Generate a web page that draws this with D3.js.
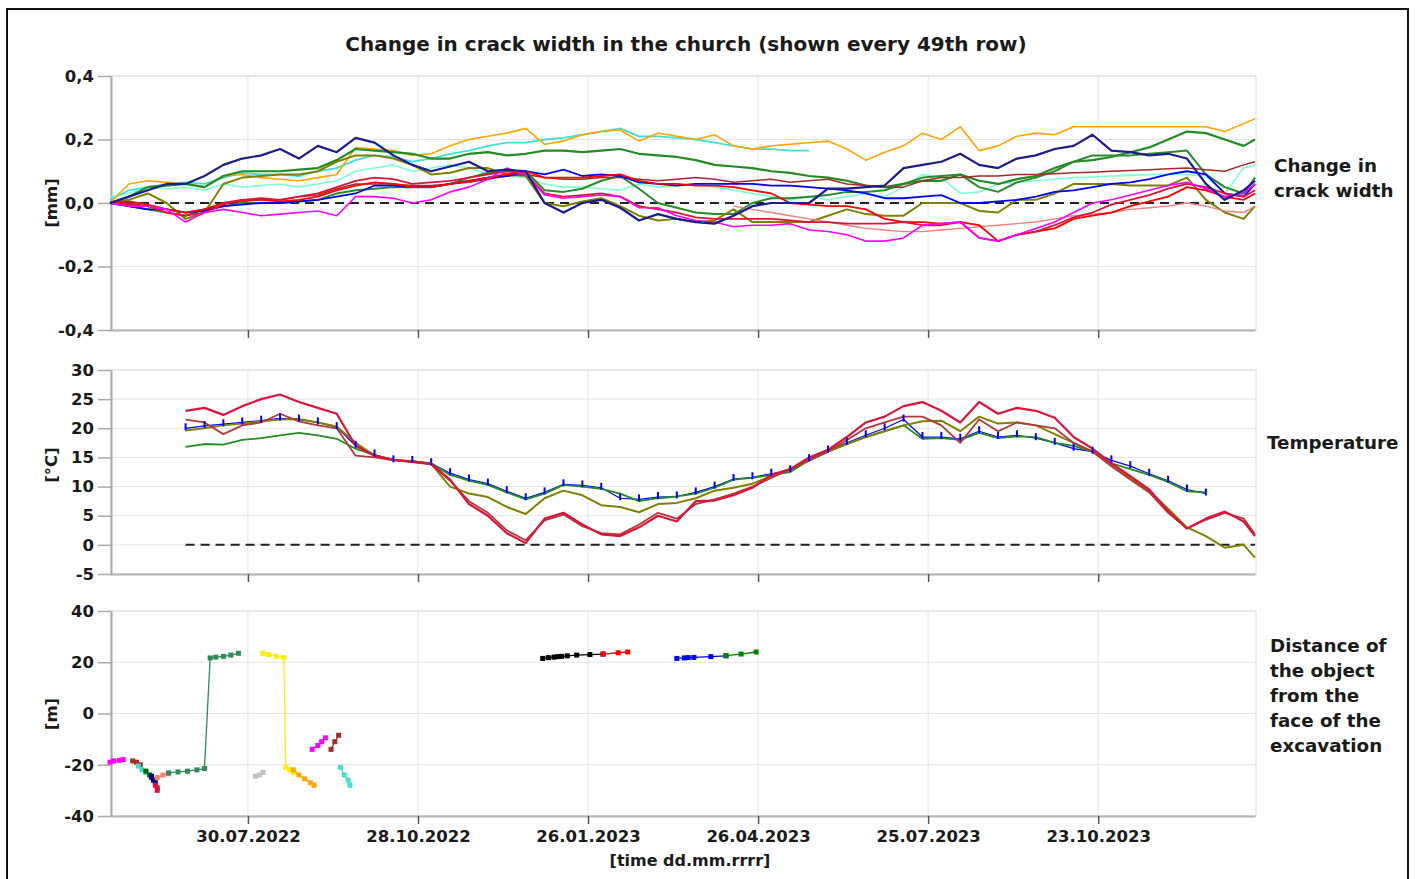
<!DOCTYPE html>
<html>
<head>
<meta charset="utf-8">
<script src="https://cdn.jsdelivr.net/npm/d3@7"></script>
<style>
  body { margin: 0; background: #fff; }
  svg { display: block; font-family: "DejaVu Sans", Verdana, sans-serif; }
</style>
</head>
<body>
<div id="chart"></div>
<script>
// ---- data ----
const gridDates = ["2022-05-18","2022-05-28","2022-06-07","2022-06-17","2022-06-27","2022-07-07","2022-07-17","2022-07-27","2022-08-06","2022-08-16",
  "2022-08-26","2022-09-05","2022-09-15","2022-09-25","2022-10-05","2022-10-15","2022-10-25","2022-11-04","2022-11-14","2022-11-24",
  "2022-12-04","2022-12-14","2022-12-24","2023-01-03","2023-01-13","2023-01-23","2023-02-02","2023-02-12","2023-02-22","2023-03-04",
  "2023-03-14","2023-03-24","2023-04-03","2023-04-13","2023-04-23","2023-05-03","2023-05-13","2023-05-23","2023-06-02","2023-06-12",
  "2023-06-22","2023-07-02","2023-07-12","2023-07-22","2023-08-01","2023-08-11","2023-08-21","2023-08-31","2023-09-10","2023-09-20",
  "2023-09-30","2023-10-10","2023-10-20","2023-10-30","2023-11-09","2023-11-19","2023-11-29","2023-12-09","2023-12-19","2023-12-29",
  "2024-01-08","2024-01-14"];

const dateTicks = ["2022-07-30","2022-10-28","2023-01-26","2023-04-26","2023-07-25","2023-10-23"];
const crackTicks = [-0.4, -0.2, 0, 0.2, 0.4];
const tempTicks = [-5, 0, 5, 10, 15, 20, 25, 30];
const distTicks = [-40, -20, 0, 20, 40];

// crack width [mm]
const crackNavy = [0.0,0.02,0.04,0.06,0.06,0.085,0.12,0.14,0.15,0.17,
  0.14,0.18,0.16,0.205,0.19,0.15,0.12,0.1,0.115,0.13,
  0.1,0.105,0.1,0.0,-0.03,0.0,0.01,-0.015,-0.055,-0.035,
  -0.05,-0.06,-0.065,-0.04,-0.01,0.0,0.0,0.0,0.045,0.045,
  0.05,0.055,0.11,0.12,0.13,0.155,0.12,0.11,0.14,0.15,
  0.17,0.18,0.215,0.165,0.16,0.15,0.155,0.14,0.06,0.01,
  0.04,0.07];
const crackOrange = [0.0,0.06,0.07,0.065,0.06,0.05,0.085,0.09,0.08,0.075,
  0.07,0.08,0.09,0.175,0.17,0.165,0.15,0.155,0.18,0.2,
  0.21,0.22,0.235,0.185,0.195,0.215,0.225,0.23,0.195,0.22,
  0.21,0.2,0.215,0.18,0.17,0.18,0.185,0.19,0.195,0.17,
  0.135,0.16,0.18,0.22,0.2,0.24,0.165,0.18,0.21,0.22,
  0.215,0.24,0.24,0.24,0.24,0.24,0.24,0.24,0.24,0.225,
  0.25,0.265];
const crackTurquoise = [0.01,0.04,0.05,0.06,0.065,0.06,0.08,0.095,0.09,0.09,
  0.085,0.1,0.11,0.135,0.15,0.145,0.13,0.14,0.155,0.165,
  0.18,0.19,0.19,0.2,0.205,0.215,0.225,0.235,0.21,0.21,
  0.205,0.2,0.19,0.18,0.17,0.17,0.165,0.165];
const crackAquamarine = [0.02,0.03,0.05,0.045,0.05,0.04,0.06,0.05,0.055,0.06,
  0.05,0.06,0.07,0.1,0.11,0.12,0.1,0.11,0.12,0.11,
  0.09,0.085,0.08,0.06,0.05,0.05,0.045,0.04,0.06,0.05,
  0.055,0.06,0.05,0.04,0.03,0.02,0.01,0.02,0.01,0.02,
  0.03,0.02,0.05,0.09,0.08,0.03,0.035,0.06,0.065,0.07,
  0.075,0.08,0.082,0.085,0.087,0.09,0.09,0.09,0.085,0.03,
  0.11,0.12];
const crackGreen1 = [0.0,0.02,0.05,0.055,0.06,0.05,0.085,0.1,0.1,0.1,
  0.105,0.11,0.135,0.17,0.165,0.16,0.155,0.14,0.14,0.155,
  0.16,0.15,0.155,0.165,0.165,0.16,0.165,0.17,0.155,0.15,
  0.145,0.135,0.12,0.115,0.11,0.1,0.095,0.085,0.08,0.07,
  0.055,0.05,0.06,0.07,0.07,0.09,0.07,0.06,0.075,0.085,
  0.11,0.13,0.135,0.145,0.16,0.175,0.2,0.225,0.22,0.2,
  0.18,0.2];
const crackGreen2 = [0.0,-0.01,-0.02,-0.03,-0.04,-0.02,-0.01,0.0,0.0,0.0,
  0.005,0.01,0.03,0.04,0.045,0.05,0.05,0.05,0.06,0.08,
  0.095,0.1,0.1,0.04,0.035,0.045,0.07,0.085,0.045,0.0,
  -0.015,-0.03,-0.035,-0.035,0.0,0.015,0.015,0.02,0.025,0.035,
  0.035,0.04,0.06,0.08,0.085,0.09,0.05,0.035,0.065,0.08,
  0.1,0.13,0.15,0.15,0.15,0.155,0.16,0.165,0.09,0.05,
  0.03,0.08];
const crackOlive = [0.0,0.01,0.03,0.0,-0.05,-0.03,0.06,0.08,0.085,0.09,
  0.09,0.1,0.13,0.15,0.15,0.14,0.12,0.09,0.095,0.11,
  0.11,0.09,0.085,0.0,-0.01,0.005,0.015,-0.01,-0.04,-0.055,
  -0.05,-0.06,-0.055,-0.02,-0.06,-0.06,-0.06,-0.06,-0.04,-0.02,
  -0.035,-0.04,-0.04,0.0,0.0,0.0,-0.025,-0.03,0.01,0.01,
  0.03,0.06,0.06,0.06,0.055,0.055,0.055,0.08,0.01,-0.03,
  -0.05,-0.01];
const crackRed = [0.0,0.005,-0.005,-0.02,-0.03,-0.02,0.0,0.01,0.01,0.005,
  0.01,0.02,0.04,0.055,0.065,0.06,0.05,0.05,0.06,0.07,
  0.08,0.09,0.1,0.08,0.08,0.08,0.085,0.09,0.07,0.06,
  0.06,0.055,0.055,0.05,0.04,0.03,0.0,-0.005,-0.01,-0.01,
  -0.02,-0.05,-0.06,-0.06,-0.065,-0.06,-0.07,-0.12,-0.1,-0.09,
  -0.08,-0.05,-0.04,-0.03,-0.01,0.005,0.02,0.05,0.04,0.02,
  0.01,0.03];
const crackCrimson = [0.0,-0.005,-0.01,-0.03,-0.04,-0.03,-0.005,0.01,0.015,0.01,
  0.02,0.03,0.05,0.07,0.08,0.075,0.06,0.065,0.07,0.08,
  0.09,0.1,0.09,0.03,0.02,0.025,0.03,0.02,-0.01,-0.02,
  -0.03,-0.045,-0.05,-0.05,-0.05,-0.05,-0.055,-0.06,-0.06,-0.065,
  -0.065,-0.065,-0.06,-0.07,-0.07,-0.06,-0.11,-0.12,-0.1,-0.09,
  -0.07,-0.045,-0.03,-0.005,0.01,0.025,0.045,0.06,0.05,0.03,
  0.02,0.04];
const crackMagenta = [0.0,-0.01,-0.01,-0.02,-0.06,-0.03,-0.02,-0.03,-0.04,-0.035,
  -0.03,-0.025,-0.04,0.02,0.02,0.015,0.0,0.01,0.035,0.05,
  0.075,0.11,0.09,0.025,0.015,0.02,0.025,0.02,-0.015,-0.015,
  -0.04,-0.055,-0.06,-0.075,-0.07,-0.07,-0.065,-0.085,-0.09,-0.1,
  -0.12,-0.12,-0.11,-0.07,-0.065,-0.06,-0.11,-0.12,-0.1,-0.08,
  -0.06,-0.03,0.0,0.01,0.025,0.04,0.055,0.065,0.045,0.02,
  0.03,0.06];
const crackBlue = [0.0,-0.01,-0.02,-0.02,-0.03,-0.025,-0.01,-0.005,0.0,0.0,
  0.005,0.01,0.02,0.03,0.055,0.055,0.05,0.05,0.06,0.07,
  0.08,0.085,0.1,0.09,0.105,0.085,0.09,0.085,0.065,0.06,
  0.055,0.06,0.06,0.06,0.06,0.055,0.055,0.05,0.045,0.04,
  0.03,0.015,0.015,0.02,0.025,0.0,0.0,0.005,0.01,0.02,
  0.035,0.04,0.05,0.06,0.065,0.075,0.09,0.1,0.09,0.03,
  0.02,0.06];
const crackBrown = [0.0,0.0,-0.01,-0.02,-0.03,-0.02,0.0,0.005,0.01,0.01,
  0.02,0.025,0.045,0.06,0.06,0.06,0.055,0.055,0.06,0.065,
  0.075,0.085,0.09,0.08,0.075,0.075,0.08,0.08,0.075,0.07,
  0.075,0.08,0.075,0.065,0.07,0.075,0.065,0.07,0.075,0.06,
  0.055,0.05,0.05,0.07,0.08,0.08,0.085,0.085,0.09,0.09,
  0.092,0.095,0.097,0.1,0.102,0.105,0.108,0.11,0.105,0.1,
  0.12,0.13];
const crackCoral = [null,null,null,null,null,null,null,null,null,null,
  null,null,null,null,null,null,null,null,null,null,
  null,null,null,null,null,null,null,null,null,null,
  null,null,null,-0.01,-0.02,-0.03,-0.04,-0.05,-0.06,-0.07,
  -0.08,-0.085,-0.09,-0.09,-0.085,-0.08,-0.075,-0.07,-0.065,-0.06,
  -0.05,-0.04,-0.035,-0.03,-0.02,-0.015,-0.01,0.0,-0.01,-0.025,
  -0.03,-0.01];

// temperature [°C]
const tempCrimson = [null,null,null,null,23.0,23.5,22.3,23.8,25.0,25.8,
  24.5,23.5,22.5,17.0,15.3,14.6,14.3,13.9,11.2,7.0,
  5.0,2.0,0.3,4.5,5.5,3.5,1.8,1.5,3.0,5.0,
  4.0,7.5,7.6,8.5,9.8,12.0,13.0,15.0,16.3,18.5,
  21.0,22.0,23.8,24.5,23.0,21.0,24.5,22.5,23.5,23.0,
  21.8,18.5,16.5,14.0,11.8,9.5,5.8,2.8,4.5,5.7,
  4.0,1.5];
const tempBrown = [null,null,null,null,21.5,21.0,19.0,20.5,21.0,22.5,
  21.2,20.5,20.0,15.3,15.0,14.5,14.2,13.8,11.0,7.5,
  5.5,2.5,0.8,4.2,5.2,3.2,2.0,1.8,3.5,5.5,
  4.5,7.0,7.8,8.8,10.0,11.5,13.0,14.5,16.0,18.0,
  20.0,21.0,22.0,22.0,20.5,17.5,21.5,19.5,21.0,20.5,
  20.0,17.5,16.0,13.5,11.2,9.0,5.5,2.8,4.3,5.5,
  4.5,1.8];
const tempOlive = [null,null,null,null,19.6,20.0,20.5,20.8,21.2,21.5,
  21.6,21.0,20.3,17.5,15.3,14.6,14.2,13.9,10.0,8.8,
  8.2,6.5,5.3,8.0,9.3,8.5,6.8,6.5,5.6,7.0,
  7.2,8.0,9.3,9.8,10.5,11.8,13.0,14.5,16.0,17.3,
  18.5,19.5,20.5,21.2,21.3,19.5,22.0,20.8,21.0,20.5,
  19.0,17.5,16.0,13.6,11.5,9.2,6.2,3.0,1.5,-0.5,
  0.0,-2.2];
const tempGreen = [null,null,null,null,16.8,17.3,17.2,18.0,18.3,18.8,
  19.2,18.8,18.2,16.5,15.4,14.6,14.3,14.0,12.0,11.0,
  10.3,9.0,7.8,8.8,10.3,10.0,9.6,8.8,7.5,8.0,
  8.3,8.8,9.8,11.2,11.5,12.0,12.5,14.5,16.0,17.3,
  18.5,19.5,20.5,18.2,18.3,18.0,19.2,18.3,18.6,18.5,
  17.5,17.0,16.0,14.0,13.0,12.0,10.8,9.2,9.0,null,
  null,null];
const tempBlue = [null,null,null,null,20.0,20.4,20.7,21.0,21.3,21.7,
  21.5,21.0,20.2,17.0,15.5,14.5,14.4,14.0,12.3,11.2,
  10.5,9.2,8.0,9.0,10.4,10.2,9.8,8.0,7.8,8.2,
  8.3,9.0,10.0,11.3,11.6,12.2,12.8,14.7,16.2,17.5,
  18.8,20.0,21.5,18.5,18.5,18.2,19.5,18.5,18.8,18.3,
  17.5,16.5,16.0,14.5,13.5,12.2,11.0,9.5,8.8,null,
  null,null];

// distance of the object from the face of the excavation [m]
const distMagenta1 = [["2022-05-18",-19],["2022-05-20",-18.5],["2022-05-23",-18.3],["2022-05-25",-18]];
const distBrown1 = [["2022-05-30",-18.5],["2022-06-01",-19],["2022-06-03",-20]];
const distTurq1 = [["2022-06-02",-20.5],["2022-06-04",-22],["2022-06-06",-23]];
const distDkGreen = [["2022-06-06",-22.5],["2022-06-08",-24],["2022-06-09",-25]];
const distNavy = [["2022-06-09",-24.5],["2022-06-10",-26],["2022-06-11",-27]];
const distCrimson = [["2022-06-11",-28],["2022-06-12",-29],["2022-06-12",-30]];
const distSalmon = [["2022-06-12",-25],["2022-06-15",-24],["2022-06-18",-23.5]];
const distSeaGreen = [["2022-06-18",-23.2],["2022-06-23",-22.8],["2022-06-28",-22.5],["2022-07-03",-22],["2022-07-07",-21.5],
  ["2022-07-10",21.7],["2022-07-13",22],["2022-07-17",22.3],["2022-07-21",22.8],["2022-07-25",23.5]];
const distGray = [["2022-08-03",-24.5],["2022-08-05",-24],["2022-08-07",-23]];
const distYellow = [["2022-08-07",23.5],["2022-08-10",23],["2022-08-14",22.3],["2022-08-18",21.8],["2022-08-19",-21],["2022-08-21",-22],["2022-08-23",-23]];
const distOrange = [["2022-08-23",-22],["2022-08-26",-24],["2022-08-29",-25.5],["2022-09-01",-27],["2022-09-03",-28]];
const distMagenta2 = [["2022-09-02",-14],["2022-09-05",-12.5],["2022-09-07",-11],["2022-09-09",-9.5]];
const distBrown2 = [["2022-09-12",-14],["2022-09-14",-11],["2022-09-16",-8.5]];
const distTurq2 = [["2022-09-17",-21],["2022-09-19",-24],["2022-09-21",-26],["2022-09-22",-28]];
const distBlack = [["2023-01-02",21.5],["2023-01-05",21.8],["2023-01-08",22],["2023-01-10",22.2],["2023-01-12",22.3],
  ["2023-01-15",22.5],["2023-01-20",22.8],["2023-01-27",23],["2023-02-03",23.2]];
const distRed = [["2023-02-03",23.2],["2023-02-11",23.7],["2023-02-16",24]];
const distBlue = [["2023-03-14",21.5],["2023-03-18",21.7],["2023-03-20",21.8],["2023-03-23",21.9],["2023-04-01",22.2],["2023-04-09",22.5]];
const distGreen = [["2023-04-09",22.6],["2023-04-17",23.2],["2023-04-25",24]];

// ---- drawing ----
const W = 1415, H = 879;
const parse = d3.timeParse("%Y-%m-%d");
const fmtDate = d3.timeFormat("%d.%m.%Y");
const textCol = "#1a1a1a";
const fontFam = "DejaVu Sans, Verdana, sans-serif";

const svg = d3.select("#chart").append("svg")
  .attr("width", W).attr("height", H);

svg.append("rect")
  .attr("x", 7).attr("y", 9).attr("width", 1401).attr("height", 900)
  .attr("fill", "none").attr("stroke", "#111").attr("stroke-width", 2);

svg.append("text")
  .attr("x", 686).attr("y", 51)
  .attr("text-anchor", "middle")
  .attr("font-size", 20).attr("font-weight", "bold").attr("fill", textCol)
  .text("Change in crack width in the church (shown every 49th row)");

const x = d3.scaleTime()
  .domain([parse("2022-05-18"), parse("2024-01-14")])
  .range([110, 1255]);
const tickDates = dateTicks.map(parse);

const yCrack = d3.scaleLinear().domain([-0.4, 0.4]).range([330, 76]);
const yTemp = d3.scaleLinear().domain([-5, 30]).range([574, 370]);
const yDist = d3.scaleLinear().domain([-40, 40]).range([816, 611]);

const fmtCrack = d => (d < 0 ? "-" : "") + Math.abs(d).toFixed(1).replace(".", ",");
const fmtInt = d => (d < 0 ? "-" : "") + Math.abs(d);

function panel(y, ticks, fmt, showDates) {
  const [bottom, top] = y.range();
  const g = svg.append("g");

  // grid
  g.selectAll(".hg").data(ticks).join("line")
    .attr("x1", 111).attr("x2", 1256)
    .attr("y1", d => y(d)).attr("y2", d => y(d))
    .attr("stroke", "#e4e4e4").attr("stroke-width", 1);
  g.selectAll(".vg").data(tickDates).join("line")
    .attr("x1", d => x(d)).attr("x2", d => x(d))
    .attr("y1", top).attr("y2", bottom)
    .attr("stroke", "#e4e4e4").attr("stroke-width", 1);
  g.append("rect")
    .attr("x", 111).attr("y", top).attr("width", 1145).attr("height", bottom - top)
    .attr("fill", "none").attr("stroke", "#dcdcdc");

  // bottom axis
  const ax = g.append("g")
    .attr("transform", `translate(0,${bottom})`)
    .call(d3.axisBottom(x).tickValues(tickDates).tickSize(8).tickSizeOuter(0).tickPadding(6)
      .tickFormat(showDates ? fmtDate : ""));
  ax.select(".domain").attr("stroke", "#b4b4b4").attr("stroke-width", 2);
  ax.selectAll(".tick line").attr("stroke", "#555").attr("stroke-width", 1.5);
  ax.selectAll("text").attr("font-size", 16.5).attr("font-weight", "bold").attr("fill", textCol)
    .attr("font-family", fontFam);

  // left axis
  const ay = g.append("g")
    .attr("transform", "translate(111,0)")
    .call(d3.axisLeft(y).tickValues(ticks).tickSize(13).tickSizeOuter(0).tickPadding(4).tickFormat(fmt));
  ay.select(".domain").attr("stroke", "#a8a8a8").attr("stroke-width", 2);
  ay.selectAll(".tick line").attr("stroke", "#a8a8a8").attr("stroke-width", 1.5);
  ay.selectAll("text").attr("font-size", 16.5).attr("font-weight", "bold").attr("fill", textCol)
    .attr("font-family", fontFam);
  return g;
}

function yLabel(txt, cy) {
  svg.append("text")
    .attr("transform", `translate(57,${cy}) rotate(-90)`)
    .attr("text-anchor", "middle")
    .attr("font-size", 16.5).attr("font-weight", "bold").attr("fill", textCol)
    .text(txt);
}

function sideLabel(lines, x0, y0, step) {
  const t = svg.append("text")
    .attr("font-size", 18.3).attr("font-weight", "bold").attr("fill", textCol);
  lines.forEach((l, i) => t.append("tspan").attr("x", x0).attr("y", y0 + i * step).text(l));
}

function zip(vals) {
  return gridDates.map((s, i) => [parse(s), vals[i]]);
}

// ---- panel 1: crack width ----
const gCrack = panel(yCrack, crackTicks, fmtCrack, false);
gCrack.append("line")
  .attr("x1", x(parse(gridDates[0]))).attr("x2", 1255)
  .attr("y1", yCrack(0)).attr("y2", yCrack(0))
  .attr("stroke", "#222").attr("stroke-width", 2).attr("stroke-dasharray", "9,6");

const crackSeries = [
  { vals: crackAquamarine, color: "#7fffd4", w: 1.6 },
  { vals: crackTurquoise, color: "#40e0d0", w: 1.8 },
  { vals: crackOrange, color: "#ffa500", w: 1.6 },
  { vals: crackGreen1, color: "#228b22", w: 2.2 },
  { vals: crackGreen2, color: "#2a8a2a", w: 2 },
  { vals: crackOlive, color: "#808000", w: 2 },
  { vals: crackBrown, color: "#a52a2a", w: 1.5 },
  { vals: crackCoral, color: "#f08080", w: 1.4 },
  { vals: crackBlue, color: "#0000ff", w: 1.8 },
  { vals: crackRed, color: "#ff0000", w: 1.8 },
  { vals: crackCrimson, color: "#dc143c", w: 1.8 },
  { vals: crackMagenta, color: "#ff00ff", w: 1.6 },
  { vals: crackNavy, color: "#1c1c8c", w: 2.2 }
];
const lineCrack = d3.line().defined(d => d[1] != null)
  .x(d => x(d[0])).y(d => yCrack(d[1]));
crackSeries.forEach(s => {
  gCrack.append("path")
    .datum(zip(s.vals))
    .attr("fill", "none").attr("stroke", s.color).attr("stroke-width", s.w)
    .attr("stroke-linejoin", "round")
    .attr("d", lineCrack);
});
yLabel("[mm]", 203);
sideLabel(["Change in", "crack width"], 1274, 172, 25);

// ---- panel 2: temperature ----
const gTemp = panel(yTemp, tempTicks, fmtInt, false);
const tempStart = zip(tempCrimson).find(d => d[1] != null)[0];
gTemp.append("line")
  .attr("x1", x(tempStart)).attr("x2", 1255)
  .attr("y1", yTemp(0)).attr("y2", yTemp(0))
  .attr("stroke", "#222").attr("stroke-width", 2).attr("stroke-dasharray", "9,6");

const tempSeries = [
  { vals: tempBlue, color: "#0000ff", w: 1.2 },
  { vals: tempGreen, color: "#228b22", w: 1.8 },
  { vals: tempOlive, color: "#808000", w: 2 },
  { vals: tempBrown, color: "#b03a3a", w: 1.8 },
  { vals: tempCrimson, color: "#dc143c", w: 2.2 }
];
const lineTemp = d3.line().defined(d => d[1] != null)
  .x(d => x(d[0])).y(d => yTemp(d[1]));
tempSeries.forEach(s => {
  gTemp.append("path")
    .datum(zip(s.vals))
    .attr("fill", "none").attr("stroke", s.color).attr("stroke-width", s.w)
    .attr("stroke-linejoin", "round")
    .attr("d", lineTemp);
});
// blue marks on the blue temperature series
gTemp.selectAll(".bm").data(zip(tempBlue).filter(d => d[1] != null)).join("line")
  .attr("x1", d => x(d[0])).attr("x2", d => x(d[0]))
  .attr("y1", d => yTemp(d[1]) - 5).attr("y2", d => yTemp(d[1]) + 2)
  .attr("stroke", "#0000ff").attr("stroke-width", 2);
yLabel("[°C]", 465);
sideLabel(["Temperature"], 1267, 449, 25);

// ---- panel 3: distance ----
const gDist = panel(yDist, distTicks, fmtInt, true);
const distSeries = [
  { pts: distMagenta1, color: "#ff00ff" },
  { pts: distBrown1, color: "#a52a2a" },
  { pts: distTurq1, color: "#40e0d0" },
  { pts: distDkGreen, color: "#006400" },
  { pts: distNavy, color: "#000080" },
  { pts: distCrimson, color: "#dc143c" },
  { pts: distSalmon, color: "#fa8072" },
  { pts: distSeaGreen, color: "#2e8b57" },
  { pts: distGray, color: "#c0c0c0" },
  { pts: distYellow, color: "#ffee00" },
  { pts: distOrange, color: "#ffa500" },
  { pts: distMagenta2, color: "#ff00ff" },
  { pts: distBrown2, color: "#a52a2a" },
  { pts: distTurq2, color: "#40e0d0" },
  { pts: distBlack, color: "#000000" },
  { pts: distRed, color: "#ff0000" },
  { pts: distBlue, color: "#0000ff" },
  { pts: distGreen, color: "#008000" }
];
const lineDist = d3.line().x(d => x(parse(d[0]))).y(d => yDist(d[1]));
distSeries.forEach(s => {
  gDist.append("path")
    .datum(s.pts)
    .attr("fill", "none").attr("stroke", s.color).attr("stroke-width", 1.3)
    .attr("d", lineDist);
  gDist.selectAll(null).data(s.pts).join("rect")
    .attr("x", d => x(parse(d[0])) - 2.5).attr("y", d => yDist(d[1]) - 2.5)
    .attr("width", 5).attr("height", 5)
    .attr("fill", s.color);
});
yLabel("[m]", 714);
sideLabel(["Distance of", "the object", "from the", "face of the", "excavation"], 1270, 652, 25);

svg.append("text")
  .attr("x", 690).attr("y", 866)
  .attr("text-anchor", "middle")
  .attr("font-size", 16).attr("font-weight", "bold").attr("fill", textCol)
  .text("[time dd.mm.rrrr]");
</script>
</body>
</html>
